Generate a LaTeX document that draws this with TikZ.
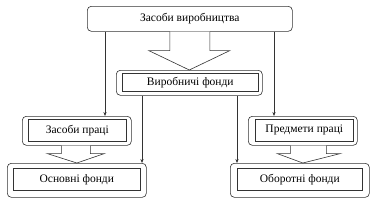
\documentclass[tikz,border=0pt]{standalone}
\usepackage{fontspec}
\setmainfont{Liberation Serif}
\usetikzlibrary{arrows.meta,calc}
\begin{document}
\begin{tikzpicture}[x=1pt,y=-1pt,
  lw/.style={line width=0.6pt},
  outerbox/.style={lw,draw=black!80,rounded corners=4pt,inner sep=0pt,anchor=north west},
  innerbox/.style={lw,draw=black!80,inner sep=0pt,anchor=north west,font=\fontsize{11.5}{13}\selectfont},
  conn/.style={lw,draw=black!80,-{Stealth[length=4pt,width=3.2pt]}},
  blockarrow/.style={lw,draw=black!80,fill=white}]
\useasboundingbox (0,0) rectangle (375,201);
% top box
\node[outerbox,minimum width=205pt,minimum height=25pt] (top) at (87,6) {};
\node[font=\fontsize{11.5}{13}\selectfont] (toptext) at (top.center) {Засоби виробництва};
% middle
\node[outerbox,minimum width=146pt,minimum height=25pt] (vfo) at (116,70) {};
\node[innerbox,minimum width=136pt,minimum height=18pt] (vf) at (122,73) {Виробничі фонди};
% left middle
\node[outerbox,minimum width=109pt,minimum height=29pt] (zpo) at (22,116) {};
\node[innerbox,minimum width=98pt,minimum height=22pt] (zp) at (28,119) {Засоби праці};
% right middle
\node[outerbox,minimum width=109pt,minimum height=29pt] (ppo) at (248,116) {};
\node[innerbox,minimum width=98pt,minimum height=22pt] (pp) at (255,119) {Предмети праці};
% bottom left
\node[outerbox,minimum width=139pt,minimum height=34pt] (ofo) at (7,163) {};
\node[innerbox,minimum width=127pt,minimum height=22pt] (of) at (13,168) {Основні фонди};
% bottom right
\node[outerbox,minimum width=139pt,minimum height=34pt] (obo) at (230,163) {};
\node[innerbox,minimum width=125pt,minimum height=22pt] (ob) at (237,168) {Оборотні фонди};
% big block arrow
\draw[blockarrow] ($(top.south)+(-20,0)$) -- ++(0,19) -- ++(-21,0) -- (vfo.north) -- ($(top.south)+(40,19)$) -- ++(-20,0) -- ($(top.south)+(20,0)$);
% small block arrows
\draw[blockarrow] ($(zpo.south)+(-15.5,0)$) -- ++(0,8) -- ++(-14,0) -- ($(ofo.north -| zpo.south)$) -- ($(zpo.south)+(27.5,8)$) -- ++(-14,0) -- ($(zpo.south)+(13.5,0)$);
\draw[blockarrow] ($(ppo.south)+(-12.5,0)$) -- ++(0,8) -- ++(-13,0) -- ($(obo.north -| ppo.south)$) -- ($(ppo.south)+(37.5,8)$) -- ++(-14,0) -- ($(ppo.south)+(23.5,0)$);
% connectors
\draw[conn] (top.south -| 105,0) -- (zpo.north -| 105,0);
\draw[conn] (top.south -| 274,0) -- (ppo.north -| 274,0);
\draw[conn] (vfo.south -| 142,0) -- (ofo.north -| 142,0);
\draw[conn] (vfo.south -| 237,0) -- (obo.north -| 237,0);
\end{tikzpicture}
\end{document}
